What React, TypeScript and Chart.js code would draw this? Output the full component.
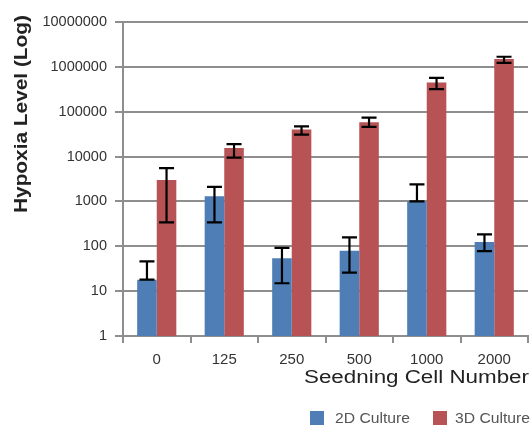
import React, { useEffect, useRef } from "react";
import { Chart, registerables } from "chart.js";

Chart.register(...registerables);

const categories = ["0", "125", "250", "500", "1000", "2000"];
const values2D = [18, 1300, 54, 80, 1000, 125];
const low2D = [18, 340, 15, 26, 1000, 78];
const high2D = [46, 2100, 92, 158, 2400, 185];
const values3D = [3000, 15500, 40000, 58000, 450000, 1500000];
const low3D = [340, 9500, 31000, 46000, 320000, 1230000];
const high3D = [5500, 19000, 47000, 74000, 570000, 1680000];
const yTicks = [1, 10, 100, 1000, 10000, 100000, 1000000, 10000000];
const seriesNames = ["2D Culture", "3D Culture"];
const xTitle = "Seedning Cell Number";
const yTitle = "Hypoxia Level (Log)";

const BLUE = "#4E7EB5";
const RED = "#B75355";
const GRID = "#8E8E8E";
const FONT = "'Liberation Sans', Arial, Helvetica, sans-serif";

function drawScaled(ctx: CanvasRenderingContext2D, text: string, x: number, y: number, targetW: number) {
  const w = ctx.measureText(text).width;
  const s = targetW / w;
  ctx.save();
  ctx.translate(x, y);
  ctx.scale(s, 1);
  ctx.fillText(text, 0, 0);
  ctx.restore();
}

const errorBarPlugin = {
  id: "errorBars",
  afterDatasetsDraw(chart: any) {
    const ctx = chart.ctx as CanvasRenderingContext2D;
    const y = chart.scales.y;
    const lows = [low2D, low3D];
    const highs = [high2D, high3D];
    ctx.save();
    ctx.strokeStyle = "#000";
    ctx.lineWidth = 2.2;
    for (let d = 0; d < 2; d++) {
      const meta = chart.getDatasetMeta(d);
      meta.data.forEach((bar: any, i: number) => {
        const x = bar.x;
        const yl = y.getPixelForValue(lows[d][i]);
        const yh = y.getPixelForValue(highs[d][i]);
        const cw = 7.5;
        ctx.beginPath();
        ctx.moveTo(x, yl);
        ctx.lineTo(x, yh);
        ctx.moveTo(x - cw, yl);
        ctx.lineTo(x + cw, yl);
        ctx.moveTo(x - cw, yh);
        ctx.lineTo(x + cw, yh);
        ctx.stroke();
      });
    }
    ctx.restore();
  },
};

const decorPlugin = {
  id: "decor",
  afterDraw(chart: any) {
    const ctx = chart.ctx as CanvasRenderingContext2D;
    ctx.save();
    ctx.fillStyle = "#222";
    ctx.font = `18px ${FONT}`;
    ctx.textAlign = "left";
    ctx.textBaseline = "alphabetic";
    drawScaled(ctx, xTitle, 304, 383, 225);
    ctx.save();
    ctx.translate(27, 213);
    ctx.rotate(-Math.PI / 2);
    ctx.font = `bold 19px ${FONT}`;
    drawScaled(ctx, yTitle, 0, 0, 198);
    ctx.restore();
    ctx.font = `15.5px ${FONT}`;
    ctx.fillStyle = BLUE;
    ctx.fillRect(310, 411, 14, 14);
    ctx.fillStyle = RED;
    ctx.fillRect(433, 411, 14, 14);
    ctx.fillStyle = "#555";
    ctx.textBaseline = "middle";
    drawScaled(ctx, seriesNames[0], 335, 419, 75);
    drawScaled(ctx, seriesNames[1], 455, 419, 75);
    ctx.restore();
  },
};

export default function App() {
  const ref = useRef<HTMLCanvasElement | null>(null);
  useEffect(() => {
    if (!ref.current) return;
    const chart = new Chart(ref.current, {
      type: "bar",
      data: {
        labels: categories,
        datasets: [
          { label: seriesNames[0], data: values2D, backgroundColor: BLUE, categoryPercentage: 0.58, barPercentage: 1 },
          { label: seriesNames[1], data: values3D, backgroundColor: RED, categoryPercentage: 0.58, barPercentage: 1 },
        ],
      },
      options: {
        responsive: false,
        animation: false,
        layout: { padding: { top: 22, right: 3, left: 0, bottom: 0 } },
        plugins: { legend: { display: false }, tooltip: { enabled: false }, title: { display: false } },
        scales: {
          x: {
            offset: true,
            grid: { offset: true, drawOnChartArea: false, drawTicks: true, tickLength: 7, color: GRID, lineWidth: 2 },
            border: { display: true, color: GRID, width: 2 },
            ticks: { color: "#333", padding: 8, font: { family: FONT, size: 15 } },
            afterFit(scale: any) { scale.height = 90; },
          },
          y: {
            type: "logarithmic",
            min: 1,
            max: 10000000,
            grid: { color: GRID, lineWidth: 2, tickLength: 8, drawTicks: true },
            border: { display: true, color: GRID, width: 2 },
            ticks: {
              color: "#333",
              padding: 8,
              font: { family: FONT, size: 14.5 },
              autoSkip: false,
              callback: (v: any) => String(v),
            },
            afterBuildTicks(scale: any) { scale.ticks = yTicks.map((v) => ({ value: v, major: false })); },
            afterFit(scale: any) { scale.width = 123; },
          },
        },
      },
      plugins: [errorBarPlugin, decorPlugin],
    });
    return () => chart.destroy();
  }, []);
  return (
    <div style={{ position: "fixed", left: 0, top: 0, width: 531, height: 426, background: "#fff" }}>
      <canvas ref={ref} width={531} height={426} />
    </div>
  );
}
